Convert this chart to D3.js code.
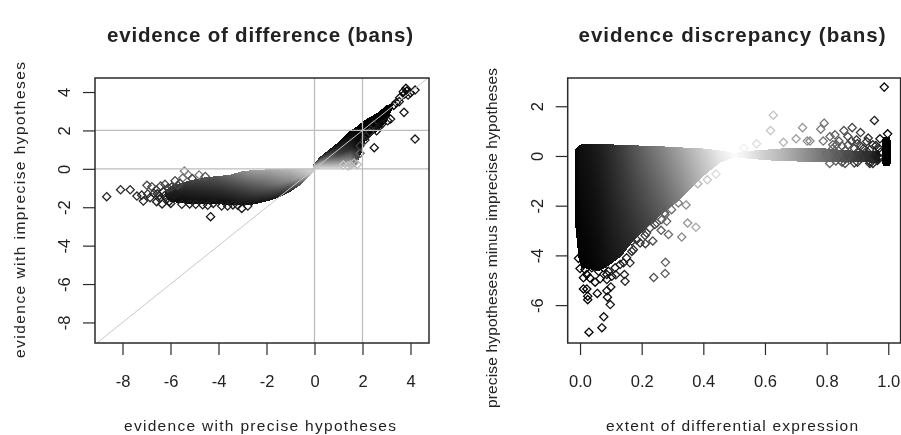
<!DOCTYPE html>
<html><head><meta charset="utf-8">
<script src="https://cdn.jsdelivr.net/npm/d3@7/dist/d3.min.js"></script>
<style>html,body{margin:0;padding:0;background:#fff;overflow:hidden}svg{display:block;filter:blur(0.55px)}text{font-family:"Liberation Sans",Arial,sans-serif;fill:#222}</style>
</head><body><svg id="c" width="901" height="435"></svg>
<script>
const leftXTicks=[-8,-6,-4,-2,0,2,4];
const leftYTicks=[-8,-6,-4,-2,0,2,4];
const rightXTicks=[0,0.2,0.4,0.6,0.8,1];
const rightYTicks=[-6,-4,-2,0,2];
const leftVLines=[0,2], leftHLines=[0,2];
// left panel: dense mass below zero, read as an envelope per column
const negX=[-6.2,-6,-5.5,-5,-4.5,-4,-3.5,-3,-2.5,-2,-1.5,-1,-.5,-.2,0];
const negTop=[-1.1,-.9,-.7,-.55,-.42,-.38,-.3,-.12,-.06,-.03,-.02,-.02,-.02,0,.1];
const negBot=[-1.5,-1.72,-1.8,-1.82,-1.85,-1.85,-1.88,-1.9,-1.85,-1.7,-1.5,-1.2,-.76,-.35,-.1];
const negGreyTop=[70,60,60,70,80,90,110,140,160,165,175,185,200,215,215];
const negGreyMid=[25,25,30,35,40,45,55,70,85,100,120,140,175,205,215];
const negGreyBot=[15,10,10,10,10,10,10,15,15,20,25,35,90,180,215];
// left panel: dense mass above zero
const posX=[-.05,.25,.5,1,1.5,1.75,1.95,2.1,2.6,3,3.25];
const posTop=[.25,.65,.9,1.4,2,2.2,2.4,2.55,2.9,3.3,3.4];
const posBot=[-.02,.02,.03,.05,.12,.2,.8,1.4,1.95,2.45,3.1];
const posGreyTop=[40,30,20,10,0,0,0,0,0,0,0];
const posGreyMid=[190,150,120,70,40,15,0,0,0,0,0];
const posGreyBot=[215,215,215,210,190,120,0,0,0,0,0];
// left panel: separate points
const leftPtX=[-8.66,-8.08,-7.68,-7.4,-7.13,-6.98,-7.2,-6.78,-6.95,-6.58,-6.35,-6.69,-6.41,-6.23,-6.47,-5.99,-5.53,-5.42,-5.26,-4.81,-5.81,-5.49,-4.66,-4.33,-4.22,-3.87,-3.62,-3.03,-2.78,-6.85,-6.6,-6.3,-6.1,-5.85,-5.2,-4.95,-4.45,-3.4,-3.2,-6.15,-6.25,-5.95,-6.45,-5.7,-5.6,-6.05,-6.55,-5.1,-4.55,
 4.19,2.49,3.73,2.8,2.59,2.1,3.17,3.4,4.19,3.81,3.7,3.9,3.53,1.9,1.78,1.2,3,2.95,3.3,2.3,2.45,3.55,3.75,4,3.85,1.5,1.65,1.4,1.9,2.15,2.7,3.05];
const leftPtY=[-1.45,-1.09,-1.09,-1.42,-1.68,-.86,-1.37,-.93,-1.31,-1.71,-1.83,-1.28,-.9,-.81,-1.4,-1.8,-1.85,-.11,-.32,-.32,-.62,-.48,-1.87,-2.49,-1.8,-1.94,-1.94,-2.06,-1.94,-1.5,-1.1,-1.2,-1,-1.35,-1.83,-1.85,-1.9,-1.88,-1.9,-1.55,-1.4,-.95,-1.55,-.85,-.75,-1.7,-1.3,-.5,-.4,
 1.55,1.1,2.94,2.32,1.98,1.5,2.59,3.44,4.1,4.19,4.02,3.84,3.5,.81,.23,.2,3.06,2.8,3.3,1.9,2.3,3.7,3.9,3.95,4.05,.2,.3,.15,1.2,1.7,2.2,2.5];
const leftPtGrey=[40,40,40,40,30,70,40,70,50,30,30,50,70,70,30,30,30,130,130,120,70,110,30,20,30,30,30,20,30,40,60,40,60,30,30,30,30,30,30,30,30,60,30,70,70,20,40,70,80,
 20,20,20,20,20,40,20,30,20,10,10,20,20,100,190,200,0,0,0,60,40,20,0,20,0,190,180,195,60,40,20,20];
// right panel: dense mass, read as an envelope per column
const massX=[-.014,-.005,.005,.03,.06,.09,.135,.168,.22,.276,.318,.4,.454,.5,.54,.6,.65,.7,.75,.8,.84,.88,.92,.97];
const massTop=[.28,.4,.47,.48,.48,.47,.45,.43,.41,.38,.35,.3,.22,.12,.2,.25,.3,.32,.33,.3,.25,.22,.2,.2];
const massBot=[-3,-4.1,-4.5,-4.55,-4.64,-4.44,-4.03,-3.49,-2.83,-2.23,-1.83,-.82,-.27,-.05,-.1,-.17,-.2,-.22,-.25,-.25,-.25,-.25,-.25,-.28];
const barX=[.98,.985,1.003,1.008];
const barTop=[.65,.78,.78,.6];
const barBot=[-.3,-.42,-.42,-.3];
// grey read along the extent axis
const greyX=[-.02,0,.05,.1,.15,.2,.25,.3,.35,.4,.45,.5,.55,.6,.65,.7,.75,.8,.85,.9,.95,1];
const greyUpper=[0,15,25,45,70,100,125,150,180,205,235,252,235,205,185,160,135,110,85,60,40,0];
const greyLower=[0,0,5,20,35,55,80,110,150,190,225,250,235,205,185,160,135,110,85,60,40,0];
// right panel: separate points
const rightPtX=[.029,.071,.077,.098,.089,.025,.025,.056,.011,.022,.1,.087,.049,.011,.022,0,-.005,.146,.144,.116,.087,.065,.239,.276,.277,.33,.376,.349,.344,.236,.212,.287,.263,.281,.243,.162,.141,.168,.184,.211,.274,.382,.413,.441,
 .016,.038,.06,.076,.092,.114,.13,.151,.173,.168,.195,.216,.227,.249,.265,.276,.032,.087,.103,.297,.319,
 .987,.955,.627,.618,.722,.792,.781,.856,.883,.91,.935,.973,.998,.869,.897,.93,.827,.737,.701,.66,.573,.532,.746,.789,.832,.811,
 .8,.82,.84,.86,.88,.9,.92,.94,.96,.97,.83,.85,.87,.89,.91,.93,.95,.965,.82,.84,.86,.88,.9,.92,.94,.96,.85,.87,.89,.91,.93,.95,.97,.81,.83,.86,.9,.94,.975];
const rightPtY=[-7.09,-6.91,-6.47,-5.98,-5.68,-5.78,-5.64,-5.53,-5.35,-5.35,-5.27,-5.42,-5.08,-4.9,-4.77,-4.53,-4.12,-5.04,-4.77,-4.78,-4.77,-4.94,-4.89,-4.73,-4.28,-3.26,-2.87,-2.7,-1.97,-3.42,-3.53,-3.16,-2.99,-2.63,-2.76,-4.3,-4.3,-3.84,-3.37,-3.2,-2.29,-1.12,-.96,-.73,
 -4.57,-4.5,-4.64,-4.5,-4.64,-4.5,-4.37,-4.1,-3.77,-3.43,-3.5,-3.1,-2.9,-2.7,-2.56,-2.36,-4.91,-4.97,-4.84,-2.16,-1.89,
 2.77,1.43,1.64,1.02,1.14,1.32,1.08,1.02,1.14,.94,.72,.69,.89,.78,.65,.58,.85,.6,.69,.55,.49,.31,.6,.6,.45,.78,
 .1,.3,.02,.22,-.1,.15,-.05,.25,.05,.3,-.2,-.25,.45,-.28,.4,.1,-.3,-.18,.45,.6,-.12,.6,.5,.3,-.22,.42,.4,.05,.3,-.08,.2,.45,-.05,-.3,.15,-.3,-.25,-.3,.15];

const svg=d3.select('#c');
const axisInk='#2a2a2a', guide='#bdbdbd';
const panels={
 left:{x:d3.scaleLinear().domain([-9.146,4.771]).range([95,429]),y:d3.scaleLinear().domain([-9.07,4.73]).range([343,78])},
 right:{x:d3.scaleLinear().domain([-.04,1.04]).range([567.7,900.6]),y:d3.scaleLinear().domain([-7.525,3.137]).range([343,78])}
};
const defs=svg.append('defs');
let gid=0;
function grad(stops){
 const id='g'+(gid++);
 const g=defs.append('linearGradient').attr('id',id).attr('x1',0).attr('x2',0).attr('y1',0).attr('y2',1);
 stops.forEach(([o,v])=>{const c=Math.round(v);g.append('stop').attr('offset',o).attr('stop-color',`rgb(${c},${c},${c})`)});
 return id;
}
function drawMass(g,p,xs,top,bot,gt,gm,gb){
 const px=xs.map(p.x);
 const yT=d3.scaleLinear().domain(px).range(top.map(p.y));
 const yB=d3.scaleLinear().domain(px).range(bot.map(p.y));
 const sT=d3.scaleLinear().domain(px).range(gt);
 const sM=d3.scaleLinear().domain(px).range(gm);
 const sB=d3.scaleLinear().domain(px).range(gb);
 for(let a=Math.floor(px[0]);a<px[px.length-1];a+=1){
  const c=a+.5;
  g.append('rect').attr('x',a).attr('width',1).attr('y',yT(c)).attr('height',Math.max(0,yB(c)-yT(c)))
   .attr('shape-rendering','crispEdges')
   .attr('fill',`url(#${grad([[0,sT(c)],[.5,sM(c)],[1,sB(c)]])})`);
 }
}
const diamond=d=>{const r=4.1;return `M0,${-r}L${r},0L0,${r}L${-r},0Z`};
function points(g,p,xs,ys,grey){
 g.selectAll('path.pt').data(xs.map((x,i)=>({x,y:ys[i],c:grey(i)}))).join('path').attr('class','pt')
  .attr('d',diamond()).attr('transform',d=>`translate(${p.x(d.x)},${p.y(d.y)})`)
  .attr('fill','none').attr('stroke',d=>`rgb(${d.c},${d.c},${d.c})`).attr('stroke-width',1.3);
}
const hy=s=>s.replace('\u2212','-');
function frame(p,xt,yt,fmtX){
 const [x0,x1]=p.x.range(),[y1,y0]=p.y.range();
 const g=svg.append('g');
 const ax=d3.axisBottom(p.x).tickValues(xt).tickSize(12).tickPadding(20).tickFormat(d=>hy(fmtX(d)));
 const ay=d3.axisLeft(p.y).tickValues(yt).tickSize(12).tickPadding(13).tickFormat(d=>hy(d3.format('d')(d)));
 const gx=g.append('g').attr('transform',`translate(0,${y1})`).call(ax);
 const gy=g.append('g').attr('transform',`translate(${x0},0)`).call(ay);
 [gx,gy].forEach(a=>{a.select('.domain').remove();a.selectAll('line').attr('stroke',axisInk).attr('stroke-width',1.2);a.selectAll('text').attr('font-size',16.5).attr('fill','#222').attr('font-family','Liberation Sans')});
 gy.selectAll('text').attr('text-anchor','middle').attr('dy',0).attr('transform','rotate(-90)').attr('x',0).attr('y',-25);
 g.append('rect').attr('x',x0).attr('y',y0).attr('width',x1-x0).attr('height',y1-y0).attr('fill','none').attr('stroke',axisInk).attr('stroke-width',1.5);
}
function label(t,x,y,size,len,opt={}){
 const e=svg.append('text').attr('font-size',size).attr('text-anchor','middle').attr('textLength',len).attr('lengthAdjust','spacing').text(t);
 if(opt.bold)e.attr('font-weight','bold');
 if(opt.rot)e.attr('transform',`translate(${x},${y}) rotate(-90)`);else e.attr('x',x).attr('y',y);
}
{
 const p=panels.left,g=svg.append('g');
 drawMass(g,p,negX,negTop,negBot,negGreyTop,negGreyMid,negGreyBot);
 drawMass(g,p,posX,posTop,posBot,posGreyTop,posGreyMid,posGreyBot);
 points(g,p,leftPtX,leftPtY,i=>leftPtGrey[i]);
 const [x0,x1]=p.x.range(),[y1,y0]=p.y.range();
 leftVLines.forEach(v=>g.append('line').attr('x1',p.x(v)).attr('x2',p.x(v)).attr('y1',y0).attr('y2',y1).attr('stroke',guide).attr('stroke-width',1.3));
 leftHLines.forEach(v=>g.append('line').attr('x1',x0).attr('x2',x1).attr('y1',p.y(v)).attr('y2',p.y(v)).attr('stroke',guide).attr('stroke-width',1.3));
 const dl=[-9.07,4.73];
 g.append('line').attr('x1',p.x(dl[0])).attr('y1',p.y(dl[0])).attr('x2',p.x(dl[1])).attr('y2',p.y(dl[1])).attr('stroke','#c8c8c8').attr('stroke-width',1);
 frame(p,leftXTicks,leftYTicks,d3.format('d'));
}
{
 const p=panels.right,g=svg.append('g');
 const up=d3.scaleLinear().domain(greyX).range(greyUpper);
 const lo=d3.scaleLinear().domain(greyX).range(greyLower);
 drawMass(g,p,massX,massTop,massBot,massX.map(up),massX.map(x=>(up(x)+lo(x))/2),massX.map(lo));
 points(g,p,rightPtX,rightPtY,i=>Math.round(lo(rightPtX[i])));
 drawMass(g,p,barX,barTop,barBot,barX.map(()=>0),barX.map(()=>0),barX.map(()=>0));
 frame(p,rightXTicks,rightYTicks,d3.format('.1f'));
}
label('evidence of difference (bans)',260,42,20.5,306,{bold:true});
label('evidence discrepancy (bans)',732,42,20.5,307,{bold:true});
label('evidence with precise hypotheses',260,431,15.5,272);
label('extent of differential expression',732,431,15.5,252);
label('evidence with imprecise hypotheses',25,210,15.5,296,{rot:true});
label('precise hypotheses minus imprecise hypotheses',497,238,15.5,340,{rot:true});
</script></body></html>
